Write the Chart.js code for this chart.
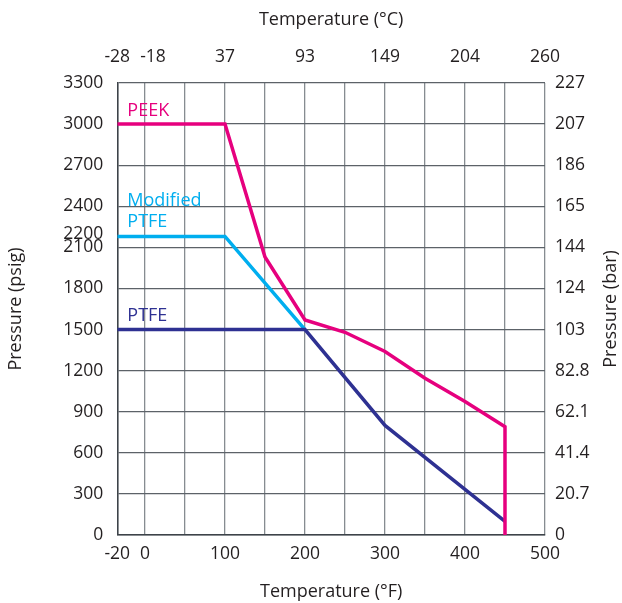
<!DOCTYPE html>
<html><head><meta charset="utf-8">
<script src="https://cdn.jsdelivr.net/npm/chart.js@4.4.0/dist/chart.umd.min.js"></script>
<style>html,body{margin:0;padding:0;background:#fff}#wrap{width:622px;height:603px;position:relative}</style>
</head><body><div id="wrap"><canvas id="c"></canvas></div>
<script>
// ---- data ----
const tempFTicks = [-20, 0, 100, 200, 300, 400, 500];          // labelled °F ticks
const tempFGrid  = [-20, 0, 50, 100, 150, 200, 250, 300, 350, 400, 450, 500];
const tempCTicks = ['-28', '-18', '37', '93', '149', '204', '260'];
const psiTicks   = [0, 300, 600, 900, 1200, 1500, 1800, 2100, 2400, 2700, 3000, 3300];
const psiExtraTick = 2200;
const barTicks   = ['0', '20.7', '41.4', '62.1', '82.8', '103', '124', '144', '165', '186', '207', '227'];

const peekF   = [-20, 100, 150, 200, 250, 300, 350, 400, 450, 450];
const peekPsi = [3000, 3000, 2030, 1570, 1480, 1340, 1145, 975, 790, 0];
const modF    = [-20, 100, 200];
const modPsi  = [2180, 2180, 1500];
const ptfeF   = [-20, 200, 300, 450];
const ptfePsi = [1500, 1500, 800, 100];

const seriesNames = ['PEEK', 'PTFE', 'Modified PTFE'];

// ---- styling ----
const COL_PEEK = '#e6007e', COL_MOD = '#00aeef', COL_PTFE = '#2e3192';
const TEXT = '#231f20';
const FONT = '"Open Sans", "Noto Sans", sans-serif';
const GRID_V = '#868c91', GRID_H = '#5c6268', BORDER = '#3d4349';

// broken axis: the -20..0 segment is stretched (as in the source chart)
const NEG_STRETCH = 1.73;
const fx = v => v < 0 ? v * NEG_STRETCH : v;
const X_MIN = fx(-20), X_MAX = 500;

const pts = (xs, ys) => xs.map((x, i) => ({x: fx(x), y: ys[i]}));

const inPlotLabels = [
  {text: 'PEEK', psi: 3095, color: COL_PEEK},
  {text: 'Modified', psi: 2440, color: COL_MOD},
  {text: 'PTFE', psi: 2285, color: COL_MOD},
  {text: 'PTFE', psi: 1599, color: COL_PTFE}
];
const rightTitle = 'Pressure (bar)';

const labelPlugin = {
  id: 'inPlotLabels',
  afterDatasetsDraw(chart) {
    const {ctx, scales} = chart;
    ctx.save();
    ctx.font = '18px ' + FONT;
    ctx.textAlign = 'left';
    ctx.textBaseline = 'middle';
    inPlotLabels.forEach(l => {
      ctx.fillStyle = l.color;
      ctx.fillText(l.text, scales.x.getPixelForValue(X_MIN) + 10, scales.y.getPixelForValue(l.psi));
    });
    // right axis title, reading bottom-to-top like the left one
    const s = scales.y2;
    ctx.translate(s.right - 11, (s.top + s.bottom) / 2);
    ctx.rotate(-Math.PI / 2);
    ctx.textAlign = 'center';
    ctx.fillStyle = TEXT;
    ctx.fillText(rightTitle, 0, 0);
    ctx.restore();
  }
};

const tickFont = {family: FONT, size: 17.5};
const titleFont = {family: FONT, size: 18};

new Chart(document.getElementById('c'), {
  type: 'line',
  data: {
    datasets: [
      {label: seriesNames[0], data: pts(peekF, peekPsi), borderColor: COL_PEEK},
      {label: seriesNames[1], data: pts(ptfeF, ptfePsi), borderColor: COL_PTFE},
      {label: seriesNames[2], data: pts(modF, modPsi), borderColor: COL_MOD}
    ].map(d => Object.assign(d, {borderWidth: 3.5, pointRadius: 0, tension: 0, fill: false, yAxisID: 'y', xAxisID: 'x'}))
  },
  options: {
    responsive: true,
    maintainAspectRatio: false,
    animation: false,
    devicePixelRatio: 1,
    layout: {padding: 0},
    plugins: {legend: {display: false}, tooltip: {enabled: false}},
    scales: {
      x: {
        type: 'linear', position: 'bottom', min: X_MIN, max: X_MAX,
        afterBuildTicks: s => { s.ticks = tempFGrid.map(v => ({value: fx(v)})); },
        afterFit: s => { s.height = 68; },
        ticks: {
          autoSkip: false, maxRotation: 0, padding: 8.5, color: TEXT, font: tickFont,
          callback: v => { const i = tempFTicks.findIndex(t => fx(t) === v); return i >= 0 ? String(tempFTicks[i]) : ''; }
        },
        grid: {color: GRID_V, lineWidth: 1.3, drawTicks: false},
        border: {color: BORDER, width: 1.5},
        title: {display: true, text: 'Temperature (°F)', color: TEXT, font: titleFont, padding: {top: 0, bottom: 0}}
      },
      x2: {
        type: 'linear', position: 'top', min: X_MIN, max: X_MAX,
        afterBuildTicks: s => { s.ticks = tempFTicks.map((v, i) => ({value: fx(v) + (tempCTicks[i] === '-18' ? 10 : 0)})); },
        afterFit: s => { s.height = 83; },
        ticks: {
          autoSkip: false, maxRotation: 0, padding: 15.5, color: TEXT, font: tickFont,
          callback: (v, i) => tempCTicks[i]
        },
        grid: {display: false, drawTicks: false},
        border: {display: false},
        title: {display: true, text: 'Temperature (°C)', color: TEXT, font: titleFont, padding: {top: 9, bottom: 0}}
      },
      y: {
        type: 'linear', position: 'left', min: 0, max: 3300,
        afterBuildTicks: s => { s.ticks = psiTicks.concat([psiExtraTick]).sort((a, b) => a - b).map(v => ({value: v})); },
        afterFit: s => { s.width = 117.3; },
        ticks: {autoSkip: false, padding: 14, color: TEXT, font: tickFont, callback: v => String(v)},
        grid: {
          color: c => (c.tick && c.tick.value === psiExtraTick) ? 'rgba(0,0,0,0)' : GRID_H,
          lineWidth: 1.3, drawTicks: false
        },
        border: {color: BORDER, width: 1.5},
        title: {display: true, text: 'Pressure (psig)', color: TEXT, font: titleFont, padding: {top: 5, bottom: 0}}
      },
      y2: {
        type: 'linear', position: 'right', min: 0, max: 3300,
        afterBuildTicks: s => { s.ticks = psiTicks.map(v => ({value: v})); },
        afterFit: s => { s.width = 77; },
        ticks: {autoSkip: false, padding: 10, color: TEXT, font: tickFont, callback: v => barTicks[psiTicks.indexOf(v)]},
        grid: {display: false, drawTicks: false},
        border: {display: false},
        title: {display: false}
      }
    }
  },
  plugins: [labelPlugin]
});
</script>
</body></html>
